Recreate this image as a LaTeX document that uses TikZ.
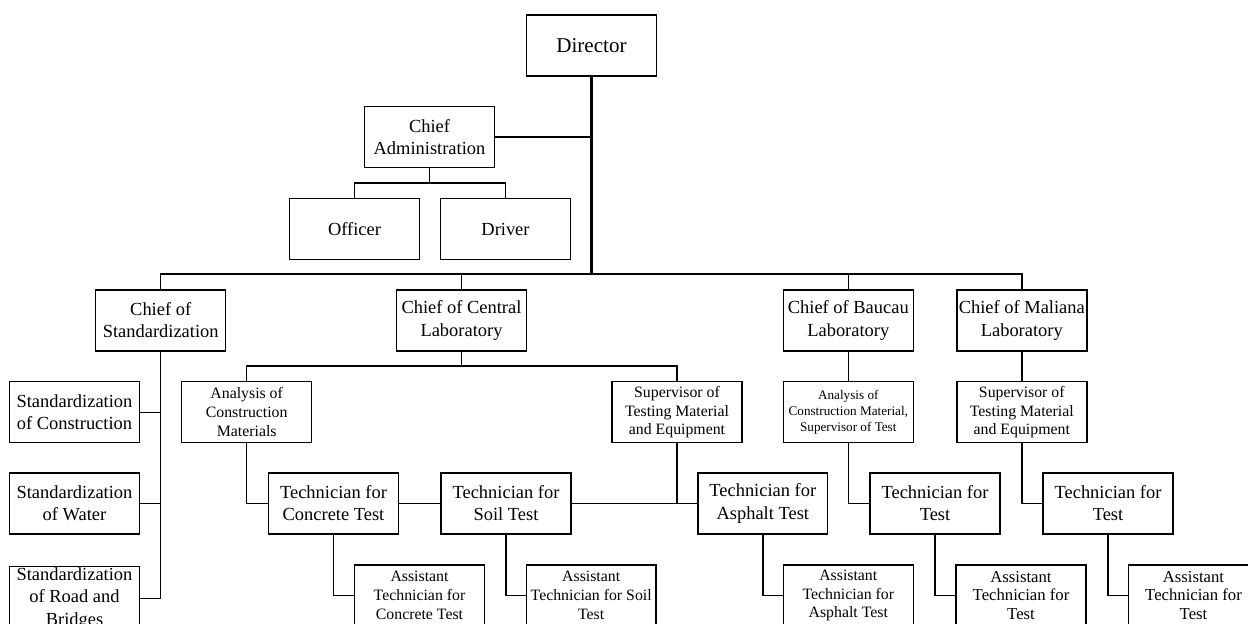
\documentclass[tikz,border=0pt]{standalone}
\usepackage{fontspec}
\setmainfont{Liberation Serif}
\usepackage{tikz}

\begin{document}
\begin{tikzpicture}[
  x=0.02cm, y=-0.02cm,
  every node/.style={font=\fontsize{10.5}{12.6}\selectfont},
  box/.style={draw, line width=0.8pt, align=center, inner sep=1pt, minimum width=2.6cm, minimum height=1.22cm},
  bigtext/.style={font=\fontsize{12}{14.4}\selectfont},
  smalltext/.style={font=\fontsize{9}{10.7}\selectfont},
  assttext/.style={font=\fontsize{9.5}{10.4}\selectfont},
  tinytext/.style={font=\fontsize{7.5}{9}\selectfont},
  link/.style={line width=0.8pt},
  trunk/.style={line width=1.5pt}
]
  \useasboundingbox (0,0) rectangle (1248,623);
  \clip (0,0) rectangle (1248,623);

  % Direktur dan administrasi
  \node[box, bigtext] (director) at (591.5,45.5) {Director};
  \node[box] (chiefadm) at (429.5,137) {Chief\\Administration};
  \node[box] (officer) at (354.5,229) {Officer};
  \node[box] (driver) at (505.5,229) {Driver};

  \coordinate (bus) at (591.5,274);
  \coordinate (admbus) at (429.5,183);
  \coordinate (cenbus) at (461.5,366);

  % Kepala bagian
  \node[box] (chiefstd) at (160.7,320.5) {Chief of\\Standardization};
  \node[box] (chiefcen) at (461.5,320.5) {Chief of Central\\Laboratory};
  \node[box] (chiefbau) at (848.3,320.5) {Chief of Baucau\\Laboratory};
  \node[box] (chiefmal) at (1021.8,320.5) {Chief of Maliana\\Laboratory};

  % Standardisasi
  \node[box] (stdcon) at (74.5,412.2) {Standardization\\of Construction};
  \node[box] (stdwat) at (74.5,503.5) {Standardization\\of Water};
  \node[box] (stdroad) at (74.5,598.5) {Standardization\\of Road and\\Bridges};

  % Laboratorium pusat
  \node[box, smalltext] (anacen) at (246.7,412.2) {Analysis of\\Construction\\Materials};
  \node[box, smalltext] (supcen) at (677,412.2) {Supervisor of\\Testing Material\\and Equipment};
  \node[box] (techcon) at (333.5,503.5) {Technician for\\Concrete Test};
  \node[box] (techsoil) at (506,503.5) {Technician for\\Soil Test};
  \node[box] (techasph) at (762.8,503.5) {Technician for\\Asphalt Test};
  \node[box, smalltext] (asstcon) at (419.5,595.5) {Assistant\\Technician for\\Concrete Test};
  \node[box, smalltext] (asstsoil) at (591.2,595.5) {Assistant\\Technician for Soil\\Test};
  \node[box, smalltext] (asstasph) at (848.3,595.5) {Assistant\\Technician for\\Asphalt Test};

  % Laboratorium Baucau
  \node[box, tinytext] (anabau) at (848.3,412.2) {Analysis of\\Construction Material,\\Supervisor of Test};
  \node[box] (techbau) at (935,503.5) {Technician for\\Test};
  \node[box, assttext] (asstbau) at (1021,595.5) {Assistant\\Technician for\\Test};

  % Laboratorium Maliana
  \node[box, smalltext] (supmal) at (1021.8,412.2) {Supervisor of\\Testing Material\\and Equipment};
  \node[box] (techmal) at (1108,503.5) {Technician for\\Test};
  \node[box, assttext] (asstmal) at (1193.5,595.5) {Assistant\\Technician for\\Test};

  % Garis
  \draw[trunk] (director) -- (bus);
  \draw[link] (chiefadm) -- (chiefadm -| bus);
  \draw[link] (chiefadm) -- (admbus);
  \draw[link] (officer.north) |- (admbus) -| (driver.north);
  \draw[link] (chiefstd.north) |- (bus) -| (chiefmal.north);
  \draw[link] (chiefcen) -- (chiefcen |- bus);
  \draw[link] (chiefbau) -- (chiefbau |- bus);

  \draw[link] (chiefstd.south) |- (stdroad.east);
  \draw[link] (stdcon) -- (stdcon -| chiefstd);
  \draw[link] (stdwat) -- (stdwat -| chiefstd);

  \draw[link] (chiefcen) -- (cenbus);
  \draw[link] (anacen.north) |- (cenbus) -| (supcen.north);
  \draw[link] (anacen.south) |- (techcon.west);
  \draw[link] (techcon) -- (techsoil);
  \draw[link] (techsoil) -- (techasph);
  \draw[link] (supcen.south) -- (supcen.south |- techasph);
  \draw[link] (techcon.south) |- (asstcon.west);
  \draw[link] (techsoil.south) |- (asstsoil.west);
  \draw[link] (techasph.south) |- (asstasph.west);

  \draw[link] (chiefbau) -- (anabau);
  \draw[link] (anabau.south) |- (techbau.west);
  \draw[link] (techbau.south) |- (asstbau.west);

  \draw[link] (chiefmal) -- (supmal);
  \draw[link] (supmal.south) |- (techmal.west);
  \draw[link] (techmal.south) |- (asstmal.west);

\end{tikzpicture}
\end{document}
